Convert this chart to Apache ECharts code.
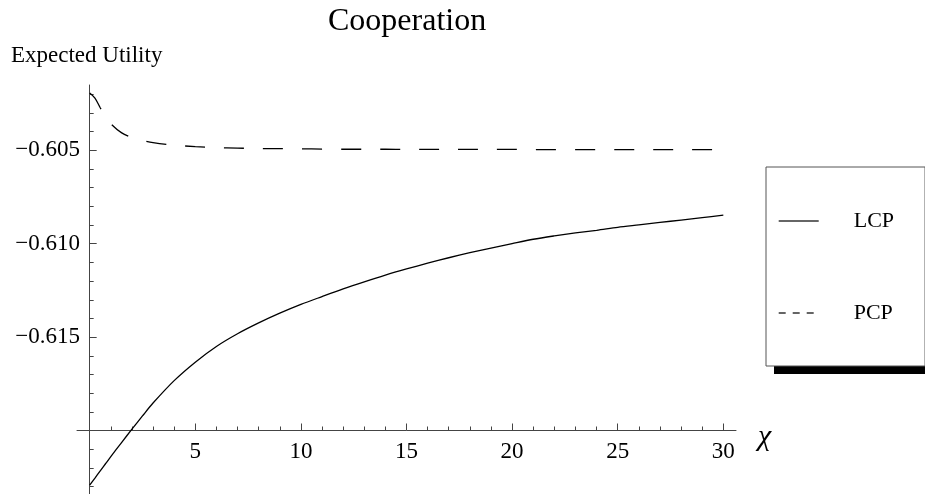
<!DOCTYPE html>
<html>
<head>
<meta charset="utf-8">
<title>Cooperation</title>
<script src="https://cdn.jsdelivr.net/npm/echarts@6/dist/echarts.min.js"></script>
<style>
html, body { margin: 0; padding: 0; background: #fff; }
#chart { width: 925px; height: 494px; }
</style>
</head>
<body>
<div id="chart"></div>
<script>
// values
const xValues = [0, 0.25, 0.5, 0.75, 1, 1.5, 2, 2.5, 3, 4, 5, 6, 7, 8, 9, 10, 11, 12, 13, 14, 15,
  16, 17, 18, 19, 20, 21, 22, 23, 24, 25, 26, 27, 28, 29, 30];
const lcpValues = [-0.62293, -0.62255, -0.62216, -0.62178, -0.62140, -0.62066, -0.61993, -0.61922, -0.61853,
  -0.61733, -0.61634, -0.61550, -0.61482, -0.61424, -0.61372, -0.61325, -0.61283, -0.61242, -0.61204,
  -0.61168, -0.61135, -0.61104, -0.61075, -0.61048, -0.61023, -0.60999, -0.60976, -0.60958, -0.60942,
  -0.60928, -0.60912, -0.60899, -0.60886, -0.60873, -0.60860, -0.60847];
const pcpValues = [-0.60193, -0.60220, -0.60272, -0.60318, -0.60357, -0.60405, -0.60432, -0.60447, -0.60458,
  -0.60472, -0.60480, -0.60485, -0.60488, -0.60490, -0.60491, -0.60492, -0.60493, -0.60494, -0.60494,
  -0.60494, -0.60495, -0.60495, -0.60495, -0.60495, -0.60495, -0.60495, -0.60496, -0.60496, -0.60496,
  -0.60496, -0.60496, -0.60496, -0.60496, -0.60496, -0.60496, -0.60496];

const xLabelTicks = [5, 10, 15, 20, 25, 30];
const xMinorTicks = [1, 2, 3, 4, 6, 7, 8, 9, 11, 12, 13, 14, 16, 17, 18, 19, 21, 22, 23, 24, 26, 27, 28, 29];
const yLabelTicks = [-0.605, -0.610, -0.615];
const yMinorTicks = [-0.623, -0.622, -0.621, -0.619, -0.618, -0.617, -0.616, -0.614, -0.613, -0.612, -0.611,
  -0.609, -0.608, -0.607, -0.606, -0.604, -0.603, -0.602];

const xMin = -0.6, xMax = 30.6;
const yMin = -0.6234, yMax = -0.6015;
const yCross = -0.620;  // x axis sits here

const gridTop = 85, gridHeight = 409;
const xAxisOffset = -gridHeight * (yCross - yMin) / (yMax - yMin);

const serif = 'Liberation Serif';
const axisColor = '#444';

function pairs (ys) {
  return xValues.map((x, i) => [x, ys[i]]);
}

function fmtY (v) {
  return '\u2212' + Math.abs(v).toFixed(3);
}

const myChart = echarts.init(document.getElementById('chart'));

const option = {
  animation: false,
  title: [
    {
      text: 'Cooperation',
      left: 328,
      top: 6,
      padding: 0,
      textStyle: { fontFamily: serif, fontSize: 32, fontWeight: 'normal', color: '#000' }
    },
    {
      text: 'Expected Utility',
      left: 11,
      top: 44,
      padding: 0,
      textStyle: { fontFamily: serif, fontSize: 23, fontWeight: 'normal', color: '#000' }
    }
  ],
  // black drop shadow under the legend box
  graphic: [
    {
      type: 'rect',
      z: 1,
      shape: { x: 774, y: 175, width: 158, height: 199 },
      style: { fill: '#000' }
    }
  ],
  legend: {
    orient: 'vertical',
    left: 766,
    top: 167,
    z: 5,
    padding: [43, 31, 42, 12],
    itemGap: 70,
    itemWidth: 40,
    itemHeight: 14,
    backgroundColor: '#fff',
    borderColor: '#555',
    borderWidth: 1,
    borderRadius: 0,
    textStyle: {
      fontFamily: serif,
      fontSize: 22,
      lineHeight: 22,
      color: '#000',
      padding: [0, 0, 0, 30]
    },
    data: [
      { name: 'LCP', itemStyle: { opacity: 0 }, lineStyle: { color: '#333', width: 1.4, type: 'solid' } },
      { name: 'PCP', itemStyle: { opacity: 0 }, lineStyle: { color: '#333', width: 1.4, type: [7, 7] } }
    ]
  },
  grid: {
    left: 77,
    top: gridTop,
    width: 659,
    height: gridHeight,
    containLabel: false
  },
  xAxis: [
    {
      type: 'value',
      min: xMin,
      max: xMax,
      position: 'bottom',
      offset: xAxisOffset,
      name: '\u03c7',
      nameLocation: 'end',
      nameGap: 22,
      nameTextStyle: { fontFamily: serif, fontStyle: 'italic', fontSize: 30, color: '#000', verticalAlign: 'top', lineHeight: 14 },
      axisLine: { onZero: false, lineStyle: { color: axisColor, width: 1 } },
      axisTick: { inside: true, length: 7, customValues: xLabelTicks, lineStyle: { color: axisColor } },
      axisLabel: { customValues: xLabelTicks, margin: 10, fontFamily: serif, fontSize: 23, color: '#000' },
      splitLine: { show: false }
    },
    {
      type: 'value',
      min: xMin,
      max: xMax,
      position: 'bottom',
      offset: xAxisOffset,
      axisLine: { show: false, onZero: false },
      axisTick: { inside: true, length: 4, customValues: xMinorTicks, lineStyle: { color: axisColor } },
      axisLabel: { show: false },
      splitLine: { show: false }
    }
  ],
  yAxis: [
    {
      type: 'value',
      min: yMin,
      max: yMax,
      position: 'left',
      axisLine: { show: true, onZero: true, lineStyle: { color: axisColor, width: 1 } },
      axisTick: { inside: true, length: 7, customValues: yLabelTicks, lineStyle: { color: axisColor } },
      axisLabel: { customValues: yLabelTicks, formatter: fmtY, margin: -3, fontFamily: serif, fontSize: 23, color: '#000' },
      splitLine: { show: false }
    },
    {
      type: 'value',
      min: yMin,
      max: yMax,
      position: 'left',
      axisLine: { show: false, onZero: true },
      axisTick: { inside: true, length: 4, customValues: yMinorTicks, lineStyle: { color: axisColor } },
      axisLabel: { show: false },
      splitLine: { show: false }
    }
  ],
  series: [
    {
      name: 'LCP',
      type: 'line',
      symbol: 'none',
      smooth: 0.3,
      xAxisIndex: 0,
      yAxisIndex: 0,
      lineStyle: { color: '#000', width: 1.3 },
      data: pairs(lcpValues)
    },
    {
      name: 'PCP',
      type: 'line',
      symbol: 'none',
      smooth: 0.3,
      xAxisIndex: 0,
      yAxisIndex: 0,
      lineStyle: { color: '#000', width: 1.3, type: [20, 19] },
      data: pairs(pcpValues)
    }
  ]
};
myChart.setOption(option);
</script>
</body>
</html>
